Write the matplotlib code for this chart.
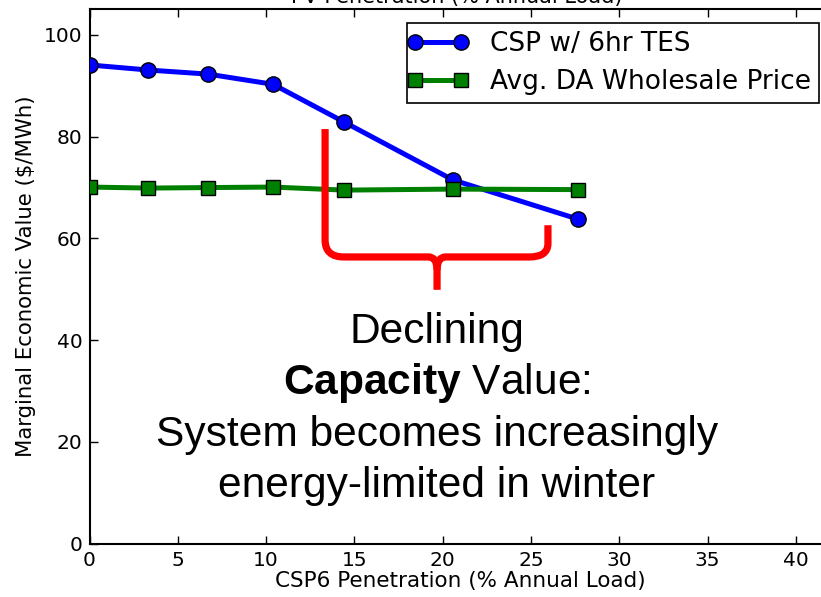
import matplotlib
matplotlib.use("Agg")
import matplotlib.pyplot as plt
from matplotlib.path import Path
from matplotlib.patches import PathPatch
from matplotlib.lines import Line2D
from matplotlib.legend_handler import HandlerLine2D

plt.rcParams['font.family'] = ['DejaVu Sans']
plt.rcParams['mathtext.fontset'] = 'custom'
plt.rcParams['mathtext.rm'] = 'Liberation Sans'
plt.rcParams['mathtext.bf'] = 'Liberation Sans:bold'

# Data
penetration = [0, 3.34, 6.72, 10.39, 14.41, 20.58, 27.66]
csp_value = [94.1, 93.1, 92.3, 90.3, 82.9, 71.5, 63.8]
da_price = [70.1, 69.9, 70.0, 70.1, 69.5, 69.7, 69.6]
series_labels = ["CSP w/ 6hr TES", "Avg. DA Wholesale Price"]
xticks = [0, 5, 10, 15, 20, 25, 30, 35, 40]
yticks = [0, 20, 40, 60, 80, 100]

W, H = 821, 597
fig = plt.figure(figsize=(W / 100, H / 100), dpi=100)
x_px_per_unit = 17.66
xmax = 42
ax = fig.add_axes([89.5 / W, 53.3 / H, xmax * x_px_per_unit / W, 534.2 / H])

ax.plot(penetration, csp_value, color='#0000ff', lw=3.6, marker='o', ms=11,
        mfc='#0000ff', mec='black', mew=1, label=series_labels[0], zorder=3)
ax.plot(penetration, da_price, color='#008000', lw=3.6, marker='s', ms=10.5,
        mfc='#008000', mec='black', mew=1, label=series_labels[1], zorder=3)

ax.set_xlim(0, xmax)
ax.set_ylim(0, 105)
ax.set_xticks(xticks)
ax.set_yticks(yticks)
ax.tick_params(direction='in', length=5.5, width=1, top=True, right=True,
               labelsize=14.5, pad=5)
for s in ax.spines.values():
    s.set_linewidth(1.5)

ax.set_xlabel("CSP6 Penetration (% Annual Load)", fontsize=15.5, labelpad=1)
ax.set_ylabel("Marginal Economic Value ($/MWh)", fontsize=15.3, labelpad=6)

fig.text(457 / W, 1 - 3 / H, "PV Penetration (% Annual Load)", fontsize=15,
         ha='center', va='baseline')

leg = ax.legend(loc='upper right', bbox_to_anchor=(819 / W, 1 - 23 / H),
                bbox_transform=fig.transFigure, borderaxespad=0, fancybox=False,
                framealpha=1, edgecolor='black', fontsize=19, numpoints=2,
                handlelength=1.75, handletextpad=1.1, borderpad=0.3,
                labelspacing=0.45,
                handler_map={Line2D: HandlerLine2D(marker_pad=0, numpoints=2)})
leg.get_frame().set_linewidth(1.2)

# Red brace annotation (data coordinates)
red = '#ff0000'
verts = [(13.34, 81.5), (13.34, 59.7), (13.34, 56.36), (14.4, 56.36),
         (19.2, 56.36), (19.68, 56.36), (19.68, 53.8), (19.68, 49.9)]
codes = [Path.MOVETO, Path.LINETO, Path.CURVE3, Path.CURVE3,
         Path.LINETO, Path.CURVE3, Path.CURVE3, Path.LINETO]
ax.add_patch(PathPatch(Path(verts, codes), fill=False, ec=red, lw=5.2,
                       joinstyle='round', capstyle='butt', zorder=4))
verts2 = [(25.96, 62.6), (25.96, 59.0), (25.96, 56.36), (24.9, 56.36),
          (20.16, 56.36), (19.68, 56.36), (19.68, 53.8)]
codes2 = [Path.MOVETO, Path.LINETO, Path.CURVE3, Path.CURVE3,
          Path.LINETO, Path.CURVE3, Path.CURVE3]
ax.add_patch(PathPatch(Path(verts2, codes2), fill=False, ec=red, lw=5.2,
                       joinstyle='round', capstyle='butt', zorder=4))

tx = 19.68
tfont = dict(fontsize=30.6, ha='center', va='baseline', family='Liberation Sans')
ax.text(tx, (543.7 - 343) / 5.087, "Declining", **tfont)
ax.text(tx, (543.7 - 394) / 5.087, r"$\mathbf{Capacity}$ Value:", **tfont)
ax.text(tx, (543.7 - 446) / 5.087, "System becomes increasingly", **tfont)
ax.text(tx, (543.7 - 497) / 5.087, "energy-limited in winter", **tfont)

fig.savefig("out.png", dpi=100)
